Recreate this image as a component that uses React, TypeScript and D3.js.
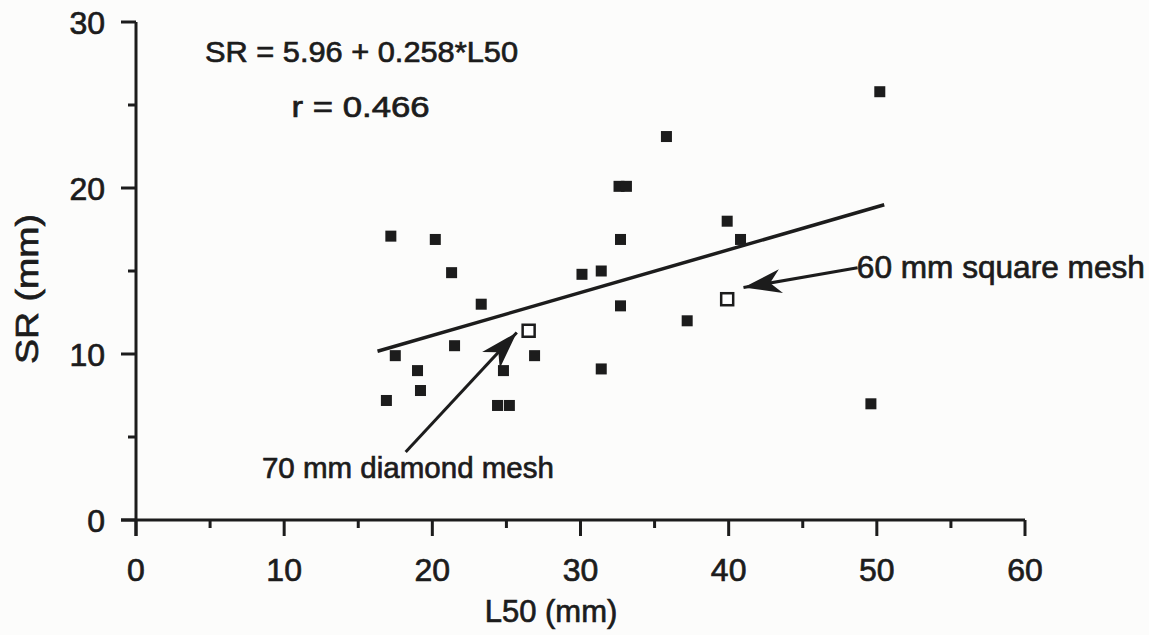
import React from "react";
import * as d3 from "d3";

// filled points: L50 (mm), SR (mm)
const l50 = [17.2, 20.2, 21.3, 23.3, 32.6, 33.1, 32.7, 30.1, 31.4, 32.7, 35.8, 39.9, 40.8, 37.2, 50.2, 49.6, 17.5, 21.5, 19.0, 19.2, 16.9, 24.8, 26.9, 31.4, 24.4, 25.2];
const sr = [17.1, 16.9, 14.9, 13.0, 20.1, 20.1, 16.9, 14.8, 15.0, 12.9, 23.1, 18.0, 16.9, 12.0, 25.8, 7.0, 9.9, 10.5, 9.0, 7.8, 7.2, 9.0, 9.9, 9.1, 6.9, 6.9];

// open points (the two reference meshes)
const openL50 = [26.5, 39.9];
const openSR = [11.4, 13.3];

const intercept = 5.96;
const slope = 0.258;
const fitRange = [16.3, 50.5];

const xTicks = [0, 10, 20, 30, 40, 50, 60];
const yTicks = [0, 10, 20, 30];

const W = 1149;
const H = 635;
const ink = "#1c1c1c";
const font = "'Liberation Sans', Arial, Helvetica, sans-serif";

const x = d3.scaleLinear().domain([0, 60]).range([136, 1025]);
const y = d3.scaleLinear().domain([0, 30]).range([520, 22]);

const arrowHead = (x1: number, y1: number, x2: number, y2: number) => {
  // barbed arrow head pointing at (x2, y2)
  const a = Math.atan2(y2 - y1, x2 - x1);
  const len = 38;
  const half = 12;
  const back = 27;
  const bx = x2 - len * Math.cos(a);
  const by = y2 - len * Math.sin(a);
  const nx = -Math.sin(a);
  const ny = Math.cos(a);
  const mx = x2 - back * Math.cos(a);
  const my = y2 - back * Math.sin(a);
  return `M${x2},${y2} L${bx + nx * half},${by + ny * half} L${mx},${my} L${bx - nx * half},${by - ny * half} Z`;
};

export default function App() {
  const fit = d3
    .line<number>()
    .x((d) => x(d))
    .y((d) => y(intercept + slope * d));

  const arrows = [
    { from: [18.2, 4.1], to: [25.7, 11.3] },
    { from: [48.7, 15.2], to: [41.0, 14.0] },
  ];

  return (
    <svg
      width={W}
      height={H}
      style={{ position: "absolute", left: 0, top: 0, background: "#fcfcfb" }}
      fontFamily={font}
      fill={ink}
    >
      {/* axes */}
      <line x1={x(0)} x2={x(0)} y1={y(30)} y2={y(0) + 16} stroke={ink} strokeWidth={3} />
      <line x1={x(0) - 15} x2={x(60)} y1={y(0)} y2={y(0)} stroke={ink} strokeWidth={3} />
      {d3.range(0, 31, 5).map((v) => (
        <line
          key={"yt" + v}
          x1={x(0) - (v % 10 === 0 ? 15 : 8)}
          x2={x(0)}
          y1={y(v)}
          y2={y(v)}
          stroke={ink}
          strokeWidth={3}
        />
      ))}
      {d3.range(0, 61, 5).map((v) => (
        <line
          key={"xt" + v}
          x1={x(v)}
          x2={x(v)}
          y1={y(0)}
          y2={y(0) + (v % 10 === 0 ? 16 : 8)}
          stroke={ink}
          strokeWidth={3}
        />
      ))}
      <g stroke={ink} strokeWidth={0.7}>
        {yTicks.map((v) => (
          <text key={"yl" + v} x={x(0) - 31} y={y(v) + 12} textAnchor="end" fontSize={32}>
            {v}
          </text>
        ))}
        {xTicks.map((v) => (
          <text key={"xl" + v} x={x(v)} y={581} textAnchor="middle" fontSize={32}>
            {v}
          </text>
        ))}
        <text x={551} y={622} textAnchor="middle" fontSize={31}>
          L50 (mm)
        </text>
        <text
          transform="translate(38,289) rotate(-90)"
          textAnchor="middle"
          fontSize={32}
          textLength={150}
          lengthAdjust="spacingAndGlyphs"
        >
          SR (mm)
        </text>

        {/* annotations */}
        <text x={x(4.66)} y={y(27.6)} fontSize={29} textLength={313} lengthAdjust="spacingAndGlyphs">
          SR = 5.96 + 0.258*L50
        </text>
        <text x={x(10.5)} y={y(24.3)} fontSize={29} textLength={138} lengthAdjust="spacingAndGlyphs">
          r = 0.466
        </text>
        <text x={x(8.5)} y={y(2.55)} fontSize={30} textLength={292} lengthAdjust="spacingAndGlyphs">
          70 mm diamond mesh
        </text>
        <text x={x(48.65)} y={y(14.6)} fontSize={31} textLength={288} lengthAdjust="spacingAndGlyphs">
          60 mm square mesh
        </text>
      </g>

      {/* regression */}
      <path d={fit(fitRange) || ""} fill="none" stroke={ink} strokeWidth={3.5} />

      {/* points */}
      {l50.map((d, i) => (
        <rect key={"p" + i} x={x(d) - 5.5} y={y(sr[i]) - 5.5} width={11} height={11} fill={ink} />
      ))}
      {openL50.map((d, i) => (
        <rect
          key={"o" + i}
          x={x(d) - 6}
          y={y(openSR[i]) - 6}
          width={12}
          height={12}
          fill="#fff"
          stroke={ink}
          strokeWidth={2.5}
        />
      ))}

      {arrows.map((a, i) => {
        const x1 = x(a.from[0]);
        const y1 = y(a.from[1]);
        const x2 = x(a.to[0]);
        const y2 = y(a.to[1]);
        return (
          <g key={"a" + i}>
            <line x1={x1} y1={y1} x2={x2} y2={y2} stroke={ink} strokeWidth={3} />
            <path d={arrowHead(x1, y1, x2, y2)} fill={ink} />
          </g>
        );
      })}
    </svg>
  );
}
